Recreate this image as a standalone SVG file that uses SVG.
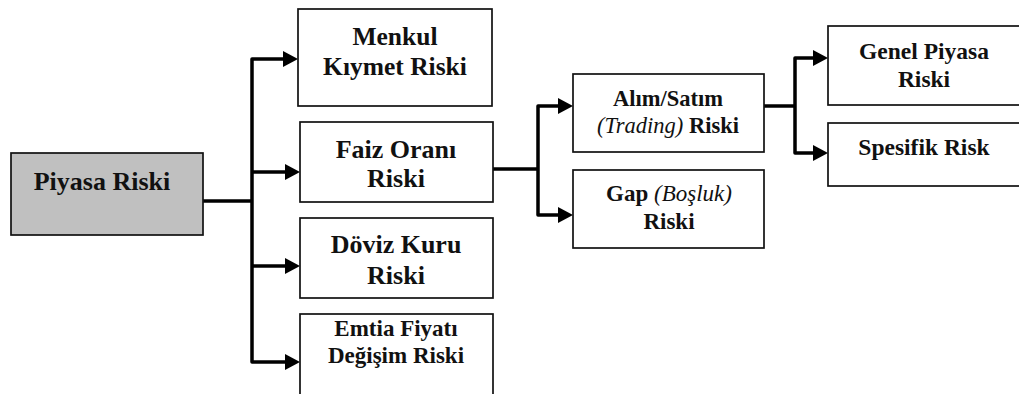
<svg xmlns="http://www.w3.org/2000/svg" width="1019" height="394" viewBox="0 0 1019 394" font-family="Liberation Serif, Times New Roman, serif">
  <style>
    .box { fill: #ffffff; stroke: #111111; stroke-width: 1.7; }
    .root { fill: #c0c0c0; stroke: #111111; stroke-width: 1.7; }
    .t { font-weight: 700; text-anchor: middle; fill: #111111; }
    .it { font-style: italic; font-weight: 400; }
    .wire { fill: none; stroke: #000000; stroke-width: 3.5; stroke-linejoin: round; stroke-linecap: butt; }
    .head { fill: #000000; }
  </style>
  <defs>
    <!-- arrowhead pointing right, tip at (0,0) -->
    <polygon id="ah" class="head" points="0,0 -15,-8 -15,8"/>
  </defs>

  <!-- connectors -->
  <g id="connectors">
    <path class="wire" d="M203,201 H252"/>
    <path class="wire" d="M285,59 H252 V362 H285"/>
    <path class="wire" d="M252,172 H287"/>
    <path class="wire" d="M252,266 H287"/>
    <use href="#ah" x="298" y="59"/>
    <use href="#ah" x="300" y="172"/>
    <use href="#ah" x="300" y="266"/>
    <use href="#ah" x="300" y="362"/>

    <path class="wire" d="M493,169 H538"/>
    <path class="wire" d="M560,106 H538 V215 H560"/>
    <use href="#ah" x="573" y="106"/>
    <use href="#ah" x="573" y="215"/>

    <path class="wire" d="M764,106 H795"/>
    <path class="wire" d="M815,58 H795 V153 H815"/>
    <use href="#ah" x="828" y="58"/>
    <use href="#ah" x="828" y="153"/>
  </g>

  <g id="piyasa-riski">
    <rect class="root" x="11" y="153" width="192" height="82"/>
    <text class="t" font-family="Liberation Serif" x="102" y="190" font-size="26">Piyasa Riski</text>
  </g>

  <g id="menkul-kiymet">
    <rect class="box" x="298" y="9" width="194" height="97"/>
    <text class="t" x="395" y="45" font-size="25.5">Menkul</text>
    <text class="t" x="395" y="75" font-size="25.5">Kıymet Riski</text>
  </g>

  <g id="faiz-orani">
    <rect class="box" x="300" y="122" width="193" height="80"/>
    <text class="t" x="396" y="158" font-size="26">Faiz Oranı</text>
    <text class="t" x="396" y="187" font-size="26">Riski</text>
  </g>

  <g id="doviz-kuru">
    <rect class="box" x="300" y="218" width="193" height="80"/>
    <text class="t" x="396" y="253" font-size="26">Döviz Kuru</text>
    <text class="t" x="396" y="284" font-size="26">Riski</text>
  </g>

  <g id="emtia-fiyati">
    <rect class="box" x="300" y="314" width="193" height="92"/>
    <text class="t" x="396" y="336" font-size="23">Emtia Fiyatı</text>
    <text class="t" x="396" y="363" font-size="23">Değişim Riski</text>
  </g>

  <g id="alim-satim">
    <rect class="box" x="573" y="74" width="191" height="78"/>
    <text class="t" x="668" y="106" font-size="22.5">Alım/Satım</text>
    <text class="t" x="668" y="133" font-size="22.5"><tspan class="it">(Trading)</tspan> Riski</text>
  </g>

  <g id="gap">
    <rect class="box" x="573" y="170" width="191" height="78"/>
    <text class="t" x="669" y="201" font-size="23">Gap <tspan class="it">(Boşluk)</tspan></text>
    <text class="t" x="669" y="229" font-size="23">Riski</text>
  </g>

  <g id="genel-piyasa">
    <rect class="box" x="828" y="26" width="196" height="79"/>
    <text class="t" x="924" y="59" font-size="23.5">Genel Piyasa</text>
    <text class="t" x="924" y="87" font-size="23.5">Riski</text>
  </g>

  <g id="spesifik">
    <rect class="box" x="828" y="123" width="196" height="63"/>
    <text class="t" x="924" y="155" font-size="23.5">Spesifik Risk</text>
  </g>
</svg>
